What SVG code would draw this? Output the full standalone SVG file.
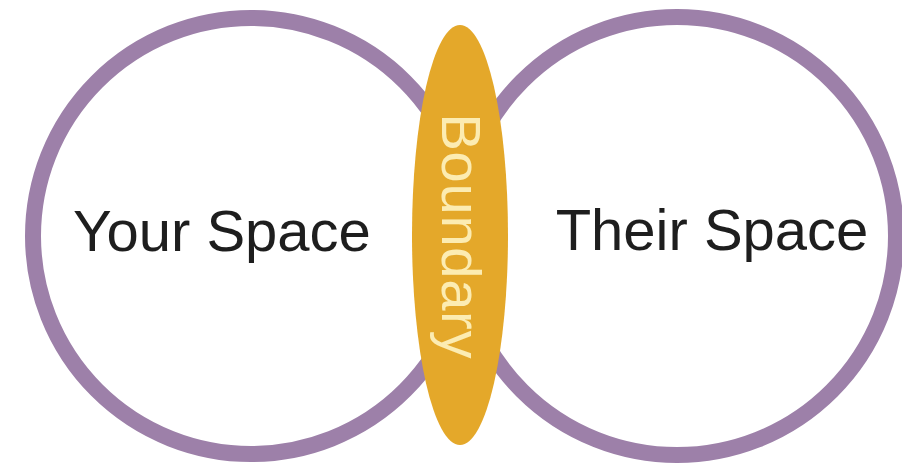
<svg xmlns="http://www.w3.org/2000/svg" width="902" height="467" viewBox="0 0 902 467">
<style>
.ring{fill:#ffffff;stroke:#9d80a9;stroke-width:16}
.lbl{font-family:"Liberation Sans",Arial,sans-serif;font-size:58px;fill:#1e1e1e;text-anchor:middle}
.bnd{font-family:"Liberation Sans",Arial,sans-serif;font-size:56px;fill:#fcecb2;text-anchor:middle}
</style>
<rect width="902" height="467" fill="#ffffff"/>
<g id="connectors"></g>
<g id="your-space">
<circle class="ring" cx="251" cy="236" r="218"/>
<text class="lbl" x="222" y="251">Your Space</text>
</g>
<g id="their-space">
<circle class="ring" cx="677" cy="236" r="219"/>
<text class="lbl" x="712" y="250">Their Space</text>
</g>
<g id="boundary">
<ellipse cx="460" cy="235" rx="48" ry="210" fill="#e4a82a"/>
<text class="bnd" transform="translate(442,236) rotate(90)" x="0" y="0" textLength="245">Boundary</text>
</g>
</svg>
